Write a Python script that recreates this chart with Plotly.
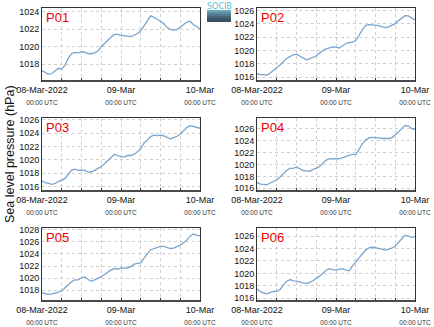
import plotly.graph_objects as go
import pandas as pd

hours = list(range(49))
start = pd.Timestamp("2022-03-08 00:00")
times = [start + pd.Timedelta(hours=h) for h in hours]

panel_names = ["P01", "P02", "P03", "P04", "P05", "P06"]

p01 = [1017.3, 1017.05, 1016.85, 1016.95, 1017.2, 1017.55, 1017.45, 1017.9, 1018.7, 1019.2,
       1019.35, 1019.3, 1019.4, 1019.4, 1019.2, 1019.2, 1019.3, 1019.5, 1020.0, 1020.4,
       1020.8, 1021.1, 1021.4, 1021.4, 1021.3, 1021.25, 1021.2, 1021.15, 1021.3, 1021.5,
       1021.8, 1022.4, 1023.0, 1023.5, 1023.35, 1023.15, 1022.9, 1022.6, 1022.2, 1021.95,
       1021.9, 1021.95, 1022.2, 1022.55, 1022.8, 1022.9, 1022.5, 1022.3, 1022.0]
p02 = [1016.5, 1016.35, 1016.35, 1016.3, 1016.6, 1017.0, 1017.3, 1017.8, 1018.3, 1018.8,
       1019.07, 1019.35, 1019.45, 1019.2, 1018.9, 1018.6, 1018.75, 1018.95, 1019.2, 1019.6,
       1020.0, 1020.25, 1020.45, 1020.55, 1020.5, 1020.35, 1020.7, 1021.05, 1021.2, 1021.25,
       1021.5, 1022.4, 1023.1, 1023.8, 1023.9, 1023.85, 1023.8, 1023.75, 1023.55, 1023.45,
       1023.55, 1023.8, 1024.05, 1024.5, 1024.95, 1025.25, 1025.2, 1024.85, 1024.6]
p03 = [1016.8, 1016.55, 1016.45, 1016.3, 1016.45, 1016.75, 1016.9, 1017.2, 1017.8, 1018.45,
       1018.6, 1018.4, 1018.45, 1018.4, 1018.15, 1018.2, 1018.4, 1018.65, 1019.0, 1019.4,
       1019.9, 1020.5, 1020.85, 1020.65, 1020.45, 1020.45, 1020.65, 1020.65, 1020.85, 1021.2,
       1021.7, 1022.55, 1022.95, 1023.5, 1023.7, 1023.65, 1023.72, 1023.6, 1023.4, 1023.15,
       1023.35, 1023.55, 1023.9, 1024.45, 1024.85, 1025.15, 1025.0, 1024.85, 1024.75]
p04 = [1017.0, 1016.7, 1016.67, 1016.6, 1016.9, 1017.15, 1017.4, 1017.9, 1018.5, 1019.0,
       1019.35, 1019.35, 1019.6, 1019.3, 1019.0, 1018.95, 1018.85, 1019.2, 1019.35, 1019.7,
       1020.2, 1020.75, 1020.95, 1021.0, 1021.0, 1020.95, 1021.15, 1021.4, 1021.6, 1021.75,
       1021.65, 1022.7, 1023.5, 1024.15, 1024.5, 1024.6, 1024.6, 1024.5, 1024.4, 1024.4,
       1024.4, 1024.55, 1024.95, 1025.5, 1026.1, 1026.6, 1026.5, 1026.05, 1025.95]
p05 = [1017.65, 1017.4, 1017.35, 1017.35, 1017.5, 1017.7, 1017.85, 1018.4, 1018.95, 1019.4,
       1019.7, 1019.7, 1020.05, 1020.2, 1019.75, 1019.45, 1019.7, 1019.95, 1020.25, 1020.6,
       1020.95, 1021.35, 1021.55, 1021.5, 1021.7, 1021.7, 1021.65, 1021.9, 1022.3, 1022.45,
       1022.5, 1023.3, 1024.1, 1024.7, 1024.9, 1025.05, 1025.25, 1025.25, 1025.05, 1024.9,
       1024.95, 1025.2, 1025.45, 1025.85, 1026.3, 1026.95, 1027.3, 1027.1, 1027.0]
p06 = [1017.5, 1017.05, 1016.85, 1016.7, 1016.9, 1017.1, 1017.1, 1017.4, 1018.1, 1018.7,
       1019.0, 1018.8, 1018.75, 1018.55, 1018.45, 1018.4, 1018.5, 1018.8, 1019.15, 1019.55,
       1020.0, 1020.5, 1020.75, 1020.55, 1020.55, 1020.6, 1020.75, 1020.5, 1020.4, 1021.2,
       1021.85, 1022.5, 1023.1, 1023.75, 1024.1, 1024.2, 1024.15, 1024.0, 1023.85, 1023.75,
       1023.9, 1024.05, 1024.4, 1025.0, 1025.7, 1026.15, 1026.0, 1025.8, 1025.9]
series = [p01, p02, p03, p04, p05, p06]

y_ranges = [[1016.1, 1024.4], [1015.4, 1026.4], [1015.3, 1026.3],
            [1015.55, 1027.85], [1016.2, 1028.3], [1015.55, 1027.3]]

tick_dates = ["2022-03-08 00:00", "2022-03-09 00:00", "2022-03-10 00:00"]
tick_main = ["08-Mar-2022", "09-Mar", "10-Mar"]
tick_sub = "00:00 UTC"
ytitle = "Sea level pressure (hPa)"

W, H = 434, 327
col_x = [(42, 200), (257, 415)]
row_y = [(8, 81), (118, 191), (228, 301)]

fig = go.Figure()
line_color = "#7aa4cc"
frame_color = "#333333"
grid_color = "#cfcfcf"

for i, (name, vals) in enumerate(zip(panel_names, series)):
    r, c = divmod(i, 2)
    n = i + 1
    xa = "xaxis" if n == 1 else f"xaxis{n}"
    ya = "yaxis" if n == 1 else f"yaxis{n}"
    xref = "x" if n == 1 else f"x{n}"
    yref = "y" if n == 1 else f"y{n}"
    fig.add_trace(go.Scatter(x=times, y=vals, mode="lines",
                             line=dict(color=line_color, width=1.3),
                             xaxis=xref, yaxis=yref, showlegend=False,
                             hoverinfo="skip"))
    x0, x1 = col_x[c]
    y0, y1 = row_y[r]
    ticktext = [f"{m}<br><span style='font-size:6.5px;color:#333'>{tick_sub}</span>"
                for m in tick_main]
    fig.layout[xa] = dict(
        domain=[x0 / W, x1 / W], anchor=yref, automargin=False,
        range=[tick_dates[0], tick_dates[-1]],
        tickvals=tick_dates, ticktext=ticktext,
        ticks="inside", ticklen=3, tickcolor=frame_color,
        showgrid=True, gridcolor=grid_color, griddash="dot", gridwidth=1,
        minor=dict(dtick=6 * 3600 * 1000, showgrid=True, gridcolor=grid_color,
                   griddash="dot", ticks="inside", ticklen=3, tickcolor=frame_color),
        showline=True, mirror=True, linecolor=frame_color, linewidth=1,
        tickfont=dict(family="Liberation Sans", size=9, color="#111"),
        zeroline=False,
    )
    fig.layout[ya] = dict(
        domain=[1 - y1 / H, 1 - y0 / H], anchor=xref, automargin=False,
        range=y_ranges[i], dtick=2,
        showgrid=True, gridcolor=grid_color, griddash="dot", gridwidth=1,
        showline=True, mirror=True, linecolor=frame_color, linewidth=1,
        ticks="", tickfont=dict(family="Liberation Sans", size=9, color="#111"),
        zeroline=False,
    )
    fig.add_shape(type="line", xref="paper", yref="paper",
                  x0=x0 / W, x1=x1 / W, y0=1 - y1 / H, y1=1 - y1 / H,
                  line=dict(color="#4a4a4a", width=2))
    fig.add_annotation(text=name, xref=f"{xref} domain", yref=f"{yref} domain",
                       x=0.01, y=1.0, xanchor="left", yanchor="top", showarrow=False,
                       font=dict(family="Liberation Sans", size=13, color="#ee0000"))

fig.add_annotation(text=ytitle, xref="paper", yref="paper", x=10 / W, y=1 - 154 / H,
                   textangle=-90, showarrow=False, xanchor="center", yanchor="middle",
                   font=dict(family="Liberation Sans", size=12.5, color="#111"))

grad = ["#6aa6b4", "#5d8fa0", "#50798b", "#466777", "#3e5868", "#3a4f5e"]
lx0, lx1, ly0, ly1 = 207, 231, 10, 22
step = (ly1 - ly0) / len(grad)
for k, col in enumerate(grad):
    fig.add_shape(type="rect", xref="paper", yref="paper", line_width=0, fillcolor=col,
                  x0=lx0 / W, x1=lx1 / W, y0=1 - (ly0 + (k + 1) * step) / H,
                  y1=1 - (ly0 + k * step) / H)
fig.add_annotation(text="SOCIB", xref="paper", yref="paper", x=219 / W, y=1 - 6.5 / H,
                   showarrow=False, xanchor="center", yanchor="middle",
                   font=dict(family="DejaVu Sans", size=8, color="#4cc3d6"))

fig.update_layout(width=W, height=H, margin=dict(l=0, r=0, t=0, b=0, autoexpand=False),
                  plot_bgcolor="white", paper_bgcolor="white")

fig.write_html("out.html")
